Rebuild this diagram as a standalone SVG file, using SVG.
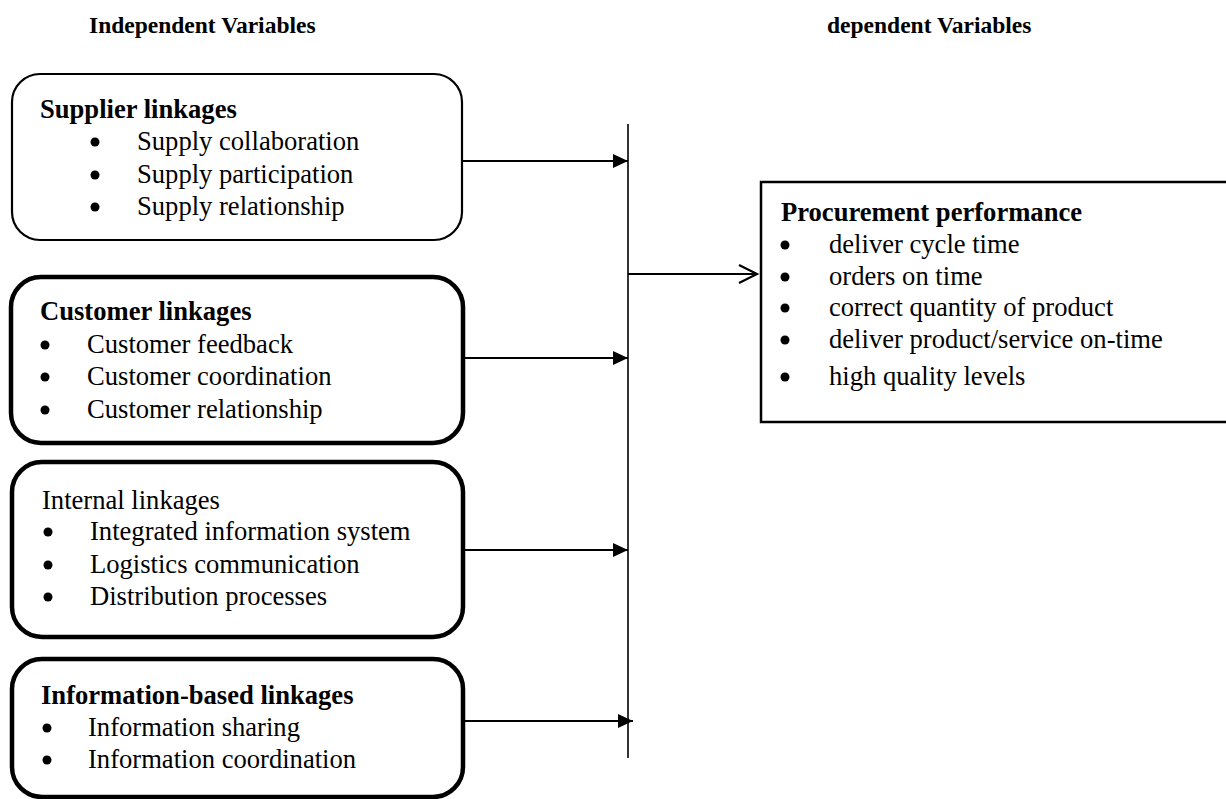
<svg xmlns="http://www.w3.org/2000/svg" width="1226" height="799" viewBox="0 0 1226 799">
<defs>
<style>
text{font-family:"Liberation Serif","Times New Roman",serif;fill:#000;font-size:26.6px}
.b{font-weight:bold}
.h{font-weight:bold;font-size:23.5px}
.thin{fill:#fff;stroke:#000;stroke-width:2.2}
.thick{fill:#fff;stroke:#000;stroke-width:4.5}
.conn{stroke:#000;stroke-width:2;fill:none}
.dot{fill:#000}
</style>
<marker id="ah" markerUnits="userSpaceOnUse" markerWidth="16" markerHeight="16" refX="15" refY="7" orient="auto">
<path d="M0,0 L15,7 L0,14 Z" fill="#000"/>
</marker>
<marker id="oh" markerUnits="userSpaceOnUse" markerWidth="22" markerHeight="22" refX="19" refY="10" orient="auto">
<path d="M1,1 L19,10 L1,19" fill="none" stroke="#000" stroke-width="2.2"/>
</marker>
</defs>
<rect width="1226" height="799" fill="#fff"/>
<text class="h" x="89" y="33">Independent Variables</text>
<text class="h" x="827" y="33">dependent Variables</text>
<g id="supplier">
<rect class="thin" x="12" y="74" width="450" height="166" rx="28"/>
<text class="b" x="40" y="118">Supplier linkages</text>
<circle class="dot" cx="95" cy="142" r="4.5"/><text x="137" y="150">Supply collaboration</text>
<circle class="dot" cx="95" cy="175" r="4.5"/><text x="137" y="183">Supply participation</text>
<circle class="dot" cx="95" cy="207" r="4.5"/><text x="137" y="215">Supply relationship</text>
</g>
<g id="customer">
<rect class="thick" x="11" y="277" width="452" height="166" rx="30"/>
<text class="b" x="40" y="320">Customer linkages</text>
<circle class="dot" cx="45" cy="345" r="4.5"/><text x="87" y="353">Customer feedback</text>
<circle class="dot" cx="45" cy="377" r="4.5"/><text x="87" y="385">Customer coordination</text>
<circle class="dot" cx="45" cy="410" r="4.5"/><text x="87" y="418">Customer relationship</text>
</g>
<g id="internal">
<rect class="thick" x="12" y="462" width="451" height="175" rx="30"/>
<text x="42" y="509">Internal linkages</text>
<circle class="dot" cx="48" cy="532" r="4.5"/><text x="90" y="540">Integrated information system</text>
<circle class="dot" cx="48" cy="565" r="4.5"/><text x="90" y="573">Logistics communication</text>
<circle class="dot" cx="48" cy="597" r="4.5"/><text x="90" y="605">Distribution processes</text>
</g>
<g id="information">
<rect class="thick" x="12" y="659" width="451" height="138" rx="30"/>
<text class="b" x="41" y="704">Information-based linkages</text>
<circle class="dot" cx="47" cy="728" r="4.5"/><text x="88" y="736">Information sharing</text>
<circle class="dot" cx="47" cy="760" r="4.5"/><text x="88" y="768">Information coordination</text>
</g>
<g id="procurement">
<rect x="761" y="182" width="475" height="240" fill="#fff" stroke="#000" stroke-width="2.5"/>
<text class="b" x="781" y="221">Procurement performance</text>
<circle class="dot" cx="785" cy="245" r="4.5"/><text x="829" y="253">deliver cycle time</text>
<circle class="dot" cx="785" cy="277" r="4.5"/><text x="829" y="285">orders on time</text>
<circle class="dot" cx="785" cy="308" r="4.5"/><text x="829" y="316">correct quantity of product</text>
<circle class="dot" cx="785" cy="340" r="4.5"/><text x="829" y="348">deliver product/service on-time</text>
<circle class="dot" cx="785" cy="377" r="4.5"/><text x="829" y="385">high quality levels</text>
</g>
<g id="connectors">
<line x1="628" y1="124" x2="628" y2="758" stroke="#000" stroke-width="1.6"/>
<line class="conn" x1="463" y1="161" x2="628" y2="161" marker-end="url(#ah)"/>
<line class="conn" x1="464" y1="358" x2="628" y2="358" marker-end="url(#ah)"/>
<line class="conn" x1="464" y1="550" x2="628" y2="550" marker-end="url(#ah)"/>
<line class="conn" x1="464" y1="721" x2="633" y2="721" marker-end="url(#ah)"/>
<line class="conn" x1="628" y1="274" x2="757" y2="274" marker-end="url(#oh)"/>
</g>
</svg>
